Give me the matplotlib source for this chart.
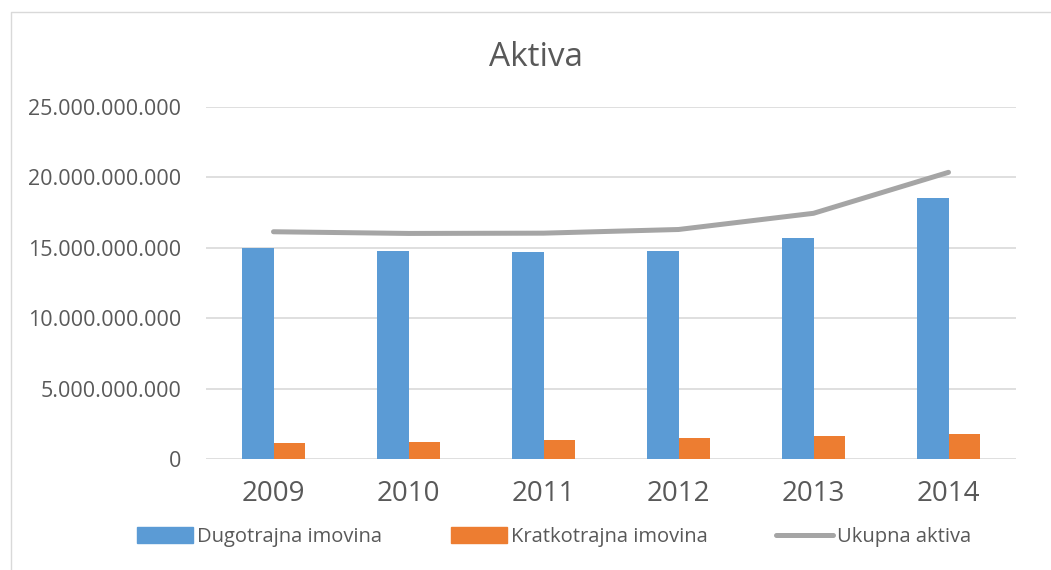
import numpy as np
import matplotlib.pyplot as plt
from matplotlib.patches import Rectangle
from matplotlib.lines import Line2D

plt.rcParams['font.family'] = ['Open Sans', 'DejaVu Sans']

# podaci ocitani sa grafikona
godine = ['2009', '2010', '2011', '2012', '2013', '2014']
dugotrajna = [14.98e9, 14.80e9, 14.68e9, 14.74e9, 15.70e9, 18.54e9]
kratkotrajna = [1.16e9, 1.20e9, 1.35e9, 1.47e9, 1.65e9, 1.75e9]
ukupna = [16.14e9, 16.02e9, 16.04e9, 16.30e9, 17.45e9, 20.36e9]
y_ticks = [0, 5e9, 10e9, 15e9, 20e9, 25e9]

plava = '#5b9bd5'
narandzasta = '#ed7d31'
siva = '#a5a5a5'
tekst = '#595959'

fig = plt.figure(figsize=(10.51, 5.70), dpi=100)
# okvir (vidljivi samo gornji i lijevi rub)
fig.add_artist(Line2D([11 / 1051, 11 / 1051, 1], [0, 1 - 12 / 570, 1 - 12 / 570],
                      transform=fig.transFigure, color='#d9d9d9', linewidth=1))
ax = fig.add_axes([206 / 1051, 1 - 459 / 570, 810 / 1051, 352 / 570])

x = np.arange(len(godine))
w = 0.237
ax.bar(x - w / 2, dugotrajna, w, color=plava, label='Dugotrajna imovina', zorder=2)
ax.bar(x + w / 2, kratkotrajna, w, color=narandzasta, label='Kratkotrajna imovina', zorder=2)
ax.plot(x, ukupna, color=siva, linewidth=3.6, solid_capstyle='round',
        label='Ukupna aktiva', zorder=3)

ax.set_xlim(-0.5, len(godine) - 0.5)
ax.set_ylim(0, 25e9)
ax.set_yticks(y_ticks)
ax.set_yticklabels(['0' if v == 0 else f'{int(v):,}'.replace(',', '.') for v in y_ticks],
                   fontsize=15.5, color=tekst)
ax.set_xticks(x)
ax.set_xticklabels(godine, fontsize=20, color=tekst)
ax.tick_params(axis='both', length=0)
ax.tick_params(axis='y', pad=18)
ax.tick_params(axis='x', pad=15)
ax.grid(axis='y', color='#d9d9d9', linewidth=1.2, zorder=0)
for s in ax.spines.values():
    s.set_visible(False)

fig.text(536 / 1051, 1 - 57 / 570, 'Aktiva', fontsize=24, color=tekst,
         ha='center', va='center')

handles = [Rectangle((0, 0), 1, 1, color=plava),
           Rectangle((0, 0), 1, 1, color=narandzasta),
           Line2D([0], [0], color=siva, linewidth=3.6, solid_capstyle='round')]
fig.legend(handles, ['Dugotrajna imovina', 'Kratkotrajna imovina', 'Ukupna aktiva'],
           loc='center', bbox_to_anchor=(554 / 1051, 1 - 537 / 570), ncol=3, frameon=False,
           fontsize=14.5, labelcolor=tekst, handlelength=2.8, handleheight=0.8,
           handletextpad=0.2, columnspacing=3.4)

fig.savefig('out.png', dpi=100)
